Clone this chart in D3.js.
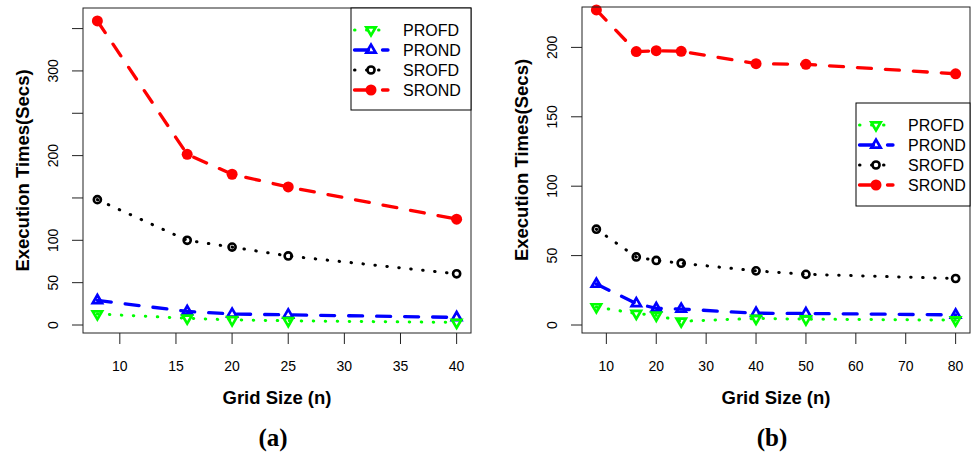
<!DOCTYPE html>
<meta charset="utf-8">
<style>
body { margin: 0; background: #fff; }
svg text { font-family: "Liberation Sans", Arial, Helvetica, sans-serif; fill: #000; }
.tick { font-size: 14px; }
.title { font-size: 18.5px; font-weight: bold; }
.caption { font-family: "Liberation Serif", "Times New Roman", serif; font-size: 25px; font-weight: bold; }
.legend { font-size: 16px; }
.box { fill: none; stroke: #222; stroke-width: 1px; }
.tickline { stroke: #222; stroke-width: 1px; }
</style>
<svg width="978" height="453"></svg>
<script src="https://d3js.org/d3.v7.min.js"></script>
<script>

// panel (a)
const gridA = [8, 16, 20, 25, 40];
const profdA = [13, 8, 6, 5, 3];
const prondA = [29, 16, 13, 12, 9];
const srofdA = [148, 100, 92, 81.5, 60.5];
const srondA = [359, 201.5, 178, 163, 125];
const xTicksA = [10, 15, 20, 25, 30, 35, 40];
const yTicksA = [0, 50, 100, 150, 200, 250, 300, 350];
const yLabelsA = [0, 50, 100, 200, 300];

// panel (b)
const gridB = [8, 16, 20, 25, 40, 50, 80];
const profdB = [13, 8.3, 7, 2.7, 4.7, 4.2, 3.5];
const prondB = [29.5, 15.5, 12, 11.5, 8.5, 8.3, 7.3];
const srofdB = [69, 49, 46.5, 44.5, 39, 36.5, 33.5];
const srondB = [227, 197, 197.6, 197.2, 188.3, 187.8, 181];
const xTicksB = [10, 20, 30, 40, 50, 60, 70, 80];
const yTicksB = [0, 50, 100, 150, 200];
const yLabelsB = [0, 50, 100, 150, 200];

const seriesNames = ["PROFD", "PROND", "SROFD", "SROND"];

// R-ish styles: lty 3 = dotted, lty 2 = dashed
const styles = {
  PROFD: { color: "#00ff00", dash: "0.5,11.5", w: 3, sym: "down" },
  PROND: { color: "#0000ff", dash: "14,14", w: 3.3, sym: "up" },
  SROFD: { color: "#000000", dash: "0.5,11.5", w: 3, sym: "open" },
  SROND: { color: "#ff0000", dash: "14,14", w: 3.3, sym: "solid" }
};

var svg = d3.select("svg");

function drawSymbol(g, kind, color, x, y) {
  if (kind == "solid") {
    g.append("path").attr("d", d3.symbol(d3.symbolCircle, 95)())
      .attr("transform", "translate(" + x + "," + y + ")")
      .style("fill", color);
  } else if (kind == "open") {
    g.append("path").attr("d", d3.symbol(d3.symbolCircle, 40)())
      .attr("transform", "translate(" + x + "," + y + ")")
      .style("fill", "none").style("stroke", color).style("stroke-width", 2.6);
  } else {
    var rot = kind == "down" ? 180 : 0;
    g.append("path").attr("d", d3.symbol(d3.symbolTriangle, 38)())
      .attr("transform", "translate(" + x + "," + y + ") rotate(" + rot + ")")
      .style("fill", "none").style("stroke", color).style("stroke-width", 2.7)
      .style("stroke-linejoin", "miter");
  }
}

function panel(p) {
  var g = svg.append("g");
  var x = d3.scaleLinear().domain(p.xDomain).range([p.left, p.right]);
  var y = d3.scaleLinear().domain(p.yDomain).range([p.bottom, p.top]);

  // series, drawn back to front
  var line = d3.line().x(function(d) { return x(d[0]); }).y(function(d) { return y(d[1]); });
  ["SROND", "SROFD", "PROND", "PROFD"].forEach(function(name) {
    var s = styles[name];
    var pts = p.grid.map(function(v, i) { return [v, p.values[name][i]]; });
    g.append("path").datum(pts).attr("d", line)
      .style("fill", "none").style("stroke", s.color).style("stroke-width", s.w)
      .style("stroke-dasharray", s.dash).style("stroke-linecap", "round");
    pts.forEach(function(d) { drawSymbol(g, s.sym, s.color, x(d[0]), y(d[1])); });
  });

  g.append("rect").attr("class", "box")
    .attr("x", p.left).attr("y", p.top)
    .attr("width", p.right - p.left).attr("height", p.bottom - p.top);

  // x axis
  p.xTicks.forEach(function(t) {
    g.append("line").attr("class", "tickline")
      .attr("x1", x(t)).attr("x2", x(t)).attr("y1", p.bottom).attr("y2", p.bottom + 11);
    g.append("text").attr("class", "tick").attr("x", x(t)).attr("y", 371)
      .attr("text-anchor", "middle").text(t);
  });

  // y axis
  p.yTicks.forEach(function(t) {
    g.append("line").attr("class", "tickline")
      .attr("x1", p.left - 11).attr("x2", p.left).attr("y1", y(t)).attr("y2", y(t));
  });
  p.yLabels.forEach(function(t) {
    g.append("text").attr("class", "tick")
      .attr("transform", "translate(" + (p.left - 25) + "," + y(t) + ") rotate(-90)")
      .attr("text-anchor", "middle").text(t);
  });

  g.append("text").attr("class", "title")
    .attr("x", (p.left + p.right) / 2).attr("y", 404)
    .attr("text-anchor", "middle").text("Grid Size (n)");
  g.append("text").attr("class", "title")
    .attr("transform", "translate(" + (p.left - 54) + "," + p.yTitleMid + ") rotate(-90)")
    .attr("text-anchor", "middle").text("Execution Times(Secs)");
  g.append("text").attr("class", "caption")
    .attr("x", (p.left + p.right) / 2 - 4).attr("y", 446)
    .attr("text-anchor", "middle").text(p.caption);

  // legend
  var L = p.legend;
  g.append("rect").attr("x", L.x).attr("y", L.y).attr("width", p.right - L.x).attr("height", L.h)
    .style("fill", "#fff").style("stroke", "#000").style("stroke-width", 1);
  seriesNames.forEach(function(name, i) {
    var s = styles[name];
    var yy = L.y + 22 + i * 20;
    g.append("line").attr("x1", L.x + 3.5).attr("x2", L.x + 37).attr("y1", yy).attr("y2", yy)
      .style("stroke", s.color).style("stroke-width", s.w)
      .style("stroke-dasharray", s.dash).style("stroke-linecap", "round");
    drawSymbol(g, s.sym, s.color, L.x + 20, yy);
    g.append("text").attr("class", "legend").attr("x", L.x + 52).attr("y", yy + 6).text(name);
  });
}

panel({
  left: 83, right: 471, top: 8, bottom: 333,
  xDomain: [6.72, 41.28], yDomain: [-9.44, 374.3],
  grid: gridA,
  values: { PROFD: profdA, PROND: prondA, SROFD: srofdA, SROND: srondA },
  xTicks: xTicksA, yTicks: yTicksA, yLabels: yLabelsA,
  yTitleMid: 170.5, caption: "(a)",
  legend: { x: 351, y: 8, h: 102 }
});

panel({
  left: 582, right: 970, top: 7, bottom: 333,
  xDomain: [5.12, 82.88], yDomain: [-5.76, 229.1],
  grid: gridB,
  values: { PROFD: profdB, PROND: prondB, SROFD: srofdB, SROND: srondB },
  xTicks: xTicksB, yTicks: yTicksB, yLabels: yLabelsB,
  yTitleMid: 160, caption: "(b)",
  legend: { x: 856, y: 103, h: 103 }
});

</script>
